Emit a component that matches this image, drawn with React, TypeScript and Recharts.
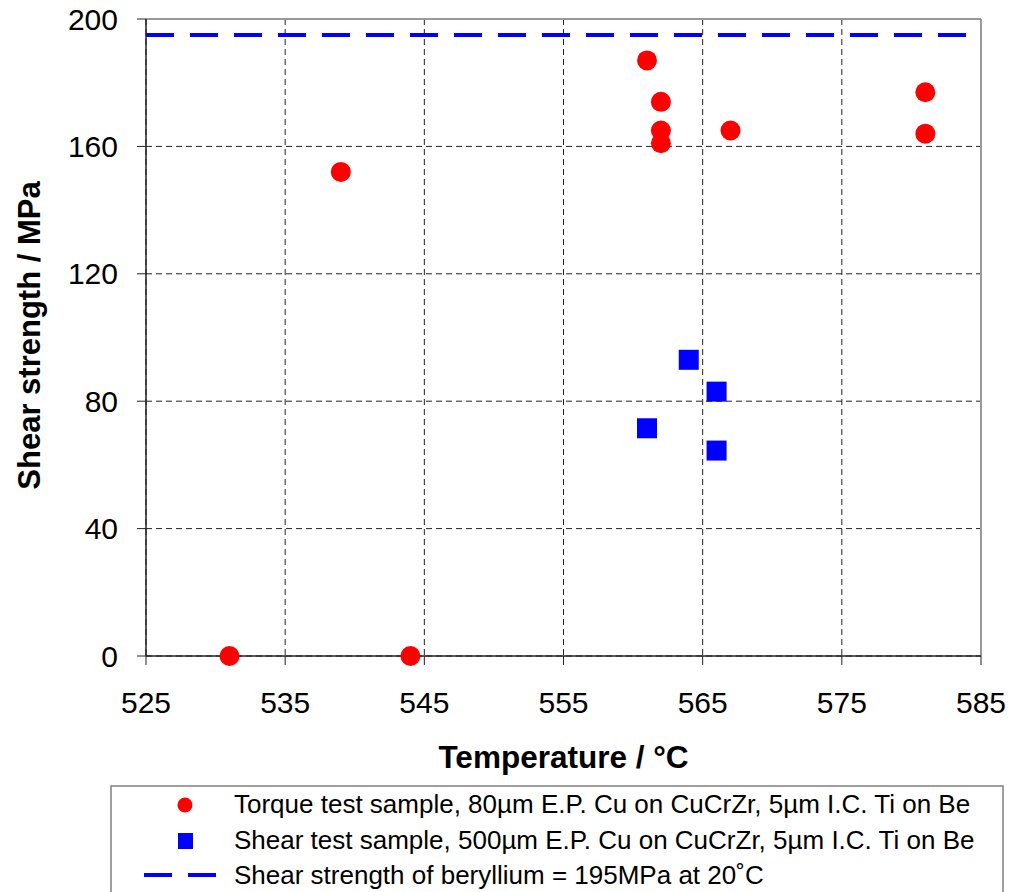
import React from 'react';
import {
  ScatterChart,
  Scatter,
  XAxis,
  YAxis,
  CartesianGrid,
  ReferenceLine,
  Label,
} from 'recharts';

// torque test samples (80um E.P. Cu)
const torqueTemp = [531, 544, 539, 561, 562, 562, 562, 567, 581, 581];
const torqueShear = [0, 0, 152, 187, 174, 165, 161, 165, 177, 164];

// shear test samples (500um E.P. Cu)
const shearTemp = [564, 566, 561, 566];
const shearShear = [93, 83, 71.5, 64.5];

// beryllium shear strength at 20C
const berylliumShear = 195;

const xTicks = [525, 535, 545, 555, 565, 575, 585];
const yTicks = [0, 40, 80, 120, 160, 200];

const legendLabels = [
  'Torque test sample, 80\u00b5m E.P. Cu on CuCrZr, 5\u00b5m I.C. Ti on Be',
  'Shear test sample, 500\u00b5m E.P. Cu on CuCrZr, 5\u00b5m I.C. Ti on Be',
  'Shear strength of beryllium = 195MPa at 20\u02daC',
];

const torqueData = torqueTemp.map((x, i) => ({ x, y: torqueShear[i] }));
const shearData = shearTemp.map((x, i) => ({ x, y: shearShear[i] }));

const FONT = '"Liberation Sans", Arial, sans-serif';
const RED = '#ff0000';
const BLUE = '#0000ff';

const tickStyle = { fontSize: 30, fill: '#000', fontFamily: FONT };

function RedDot(props: any) {
  return <circle cx={props.cx} cy={props.cy} r={10} fill={RED} />;
}

function BlueSquare(props: any) {
  return <rect x={props.cx - 10} y={props.cy - 10} width={20} height={20} fill={BLUE} />;
}

function Legend() {
  return (
    <svg
      width={1010}
      height={892}
      style={{ position: 'absolute', left: 0, top: 0, pointerEvents: 'none' }}
    >
      <rect x={111} y={786} width={892} height={140} fill="#fff" stroke="#808080" strokeWidth={1.5} />
      <circle cx={185} cy={805} r={7.5} fill={RED} />
      <rect x={178} y={833} width={15} height={16} fill={BLUE} />
      <line x1={144} x2={216} y1={875} y2={875} stroke={BLUE} strokeWidth={4} strokeDasharray="28 16" />
      {legendLabels.map((t, i) => (
        <text key={i} x={234} y={[813, 849, 884][i]} fontSize={26} fontFamily={FONT} fill="#000">
          {t}
        </text>
      ))}
    </svg>
  );
}

export default function App() {
  return (
    <div style={{ position: 'absolute', left: 0, top: 0, width: 1010, height: 892, background: '#fff' }}>
      <ScatterChart width={1010} height={892} margin={{ top: 19, right: 29, bottom: 176, left: 0 }}>
        <CartesianGrid stroke="#222" strokeDasharray="6 4" strokeWidth={1} />
        <XAxis
          type="number"
          dataKey="x"
          domain={[525, 585]}
          ticks={xTicks}
          height={60}
          tickSize={9}
          tickMargin={27}
          tick={tickStyle}
          axisLine={{ stroke: '#222', strokeWidth: 1.5 }}
          tickLine={{ stroke: '#222' }}
        >
          <Label
            content={({ viewBox }: any) => (
              <text
                x={viewBox.x + viewBox.width / 2}
                y={768}
                textAnchor="middle"
                fontSize={31.5}
                fontWeight="bold"
                fontFamily={FONT}
                fill="#000"
              >
                Temperature / °C
              </text>
            )}
          />
        </XAxis>
        <YAxis
          type="number"
          dataKey="y"
          domain={[0, 200]}
          ticks={yTicks}
          width={146}
          tickSize={9}
          tickMargin={19}
          tick={tickStyle}
          axisLine={{ stroke: '#222', strokeWidth: 1.5 }}
          tickLine={{ stroke: '#222' }}
        >
          <Label
            content={({ viewBox }: any) => {
              const cy = viewBox.y + viewBox.height / 2 - 2;
              return (
                <text
                  transform={`translate(40, ${cy}) rotate(-90)`}
                  textAnchor="middle"
                  fontSize={31}
                  fontWeight="bold"
                  fontFamily={FONT}
                  fill="#000"
                >
                  Shear strength / MPa
                </text>
              );
            }}
          />
        </YAxis>
        <ReferenceLine y={200} stroke="#999" strokeWidth={2} />
        <ReferenceLine x={585} stroke="#999" strokeWidth={2} />
        <ReferenceLine y={berylliumShear} stroke={BLUE} strokeWidth={4} strokeDasharray="28 16" />
        <Scatter name="Torque" data={torqueData} shape={RedDot} isAnimationActive={false} />
        <Scatter name="Shear" data={shearData} shape={BlueSquare} isAnimationActive={false} />
      </ScatterChart>
      <Legend />
    </div>
  );
}
